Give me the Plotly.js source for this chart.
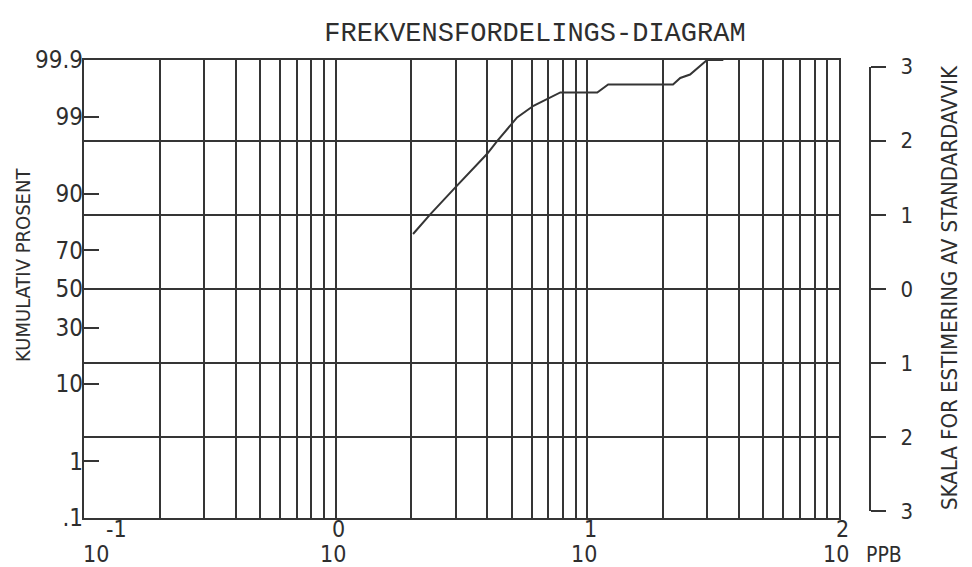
<!DOCTYPE html>
<html>
<head>
<meta charset="utf-8">
<script src="https://cdn.plot.ly/plotly-3.0.1.min.js"></script>
<style>html,body{margin:0;padding:0;background:#fff;}#chart{width:972px;height:567px;}</style>
</head>
<body>
<div id="chart"></div>
<script>
// ---- data ----
const conc = [2.03, 2.38, 2.99, 4.0, 4.38, 5.26, 6.11, 7.81, 10.95, 12.1, 21.9, 23.4, 25.6, 28.1, 29.9, 34.7]; // PPB
const cumPct = [77.1, 84.4, 91.5, 96.6, 97.7, 98.97, 99.33, 99.60, 99.60, 99.71, 99.71, 99.78, 99.81, 99.87, 99.90, 99.90]; // kumulativ prosent
const pctTicks = [0.1, 1, 10, 30, 50, 70, 90, 99, 99.9];
const pctLabels = ['.1', '1', '10', '30', '50', '70', '90', '99', '99.9'];
const sigmaTicks = [-3, -2, -1, 0, 1, 2, 3];
const sigmaLabels = ['3', '2', '1', '0', '1', '2', '3'];
const sigmaGrid = [-2, -1, 0, 1, 2];
const decadeExps = [-1, 0, 1, 2];
const expLabels = ['-1', '0', '1', '2'];
const titleText = 'FREKVENSFORDELINGS-DIAGRAM';
const leftTitle = 'KUMULATIV PROSENT';
const rightTitle = 'SKALA FOR ESTIMERING AV STANDARDAVVIK';
const unitText = 'PPB';

// inverse standard normal (Acklam)
function ppf(p) {
  const a = [-3.969683028665376e+01, 2.209460984245205e+02, -2.759285104469687e+02, 1.383577518672690e+02, -3.066479806614716e+01, 2.506628277459239e+00];
  const b = [-5.447609879822406e+01, 1.615858368580409e+02, -1.556989798598866e+02, 6.680131188771972e+01, -1.328068155288572e+01];
  const c = [-7.784894002430293e-03, -3.223964580411365e-01, -2.400758277161838e+00, -2.549732539343734e+00, 4.374664141464968e+00, 2.938163982698783e+00];
  const d = [7.784695709041462e-03, 3.224671290700398e-01, 2.445134137142996e+00, 3.754408661907416e+00];
  const pl = 0.02425, ph = 1 - pl;
  let q, r;
  if (p < pl) { q = Math.sqrt(-2 * Math.log(p)); return (((((c[0]*q+c[1])*q+c[2])*q+c[3])*q+c[4])*q+c[5]) / ((((d[0]*q+d[1])*q+d[2])*q+d[3])*q+1); }
  if (p <= ph) { q = p - 0.5; r = q*q; return (((((a[0]*r+a[1])*r+a[2])*r+a[3])*r+a[4])*r+a[5])*q / (((((b[0]*r+b[1])*r+b[2])*r+b[3])*r+b[4])*r+1); }
  q = Math.sqrt(-2 * Math.log(1 - p)); return -(((((c[0]*q+c[1])*q+c[2])*q+c[3])*q+c[4])*q+c[5]) / ((((d[0]*q+d[1])*q+d[2])*q+d[3])*q+1);
}

const zmax = ppf(0.999);
const ink = '#353535';
const txt = '#2e2e2e';
const narrow = 'Liberation Sans Narrow, Arial Narrow, DejaVu Sans Condensed, sans-serif';

// vertical grid positions 1..9 x 10^k
const xGrid = [];
for (let k = -1; k <= 1; k++) for (let m = 1; m <= 9; m++) xGrid.push(m * Math.pow(10, k));
xGrid.push(100);

const traces = [
  {x: conc, y: cumPct.map(p => ppf(p / 100)), xaxis: 'x', yaxis: 'y', type: 'scatter', mode: 'lines',
   line: {color: ink, width: 2}, hoverinfo: 'skip', showlegend: false, cliponaxis: false},
  {x: sigmaTicks.map(() => conc[0]), y: sigmaTicks, xaxis: 'x', yaxis: 'y3', type: 'scatter', mode: 'markers',
   marker: {opacity: 0, size: 1}, hoverinfo: 'skip', showlegend: false},
  {x: pctTicks.map(() => conc[0]), y: pctTicks.map(p => ppf(p / 100)), xaxis: 'x', yaxis: 'y2',
   type: 'scatter', mode: 'markers', marker: {opacity: 0, size: 1}, hoverinfo: 'skip', showlegend: false}
];

const plotL = 84, plotR = 839, axR = 870, W = 972, H = 567, plotT = 60, plotB = 518;
const paperW = axR - plotL, paperH = plotB - plotT;
const px2paperX = px => (px - plotL) / paperW;
const px2paperY = py => (plotB - py) / paperH;
const half = 0.5 * 3 / zmax;

const annotations = [];
decadeExps.forEach((e, i) => {
  const first = i === 0;
  annotations.push({xref: 'x', yref: 'paper', x: e, y: 0, text: '10', showarrow: false,
    xanchor: 'center', yanchor: 'middle', xshift: first ? 12 : -3, yshift: -36,
    font: {family: narrow, size: 23, color: txt}});
  annotations.push({xref: 'x', yref: 'paper', x: e, y: 0, text: expLabels[i], showarrow: false,
    xanchor: 'center', yanchor: 'middle', xshift: first ? 32 : 3, yshift: -11,
    font: {family: narrow, size: 23, color: txt}});
});
annotations.push({xref: 'paper', yref: 'paper', x: px2paperX(884), y: 0, text: unitText, showarrow: false,
  xanchor: 'center', yanchor: 'middle', yshift: -37, font: {family: narrow, size: 21, color: txt}});
annotations.push({xref: 'paper', yref: 'paper', x: px2paperX(23), y: px2paperY(265), text: leftTitle, showarrow: false,
  textangle: -90, xanchor: 'center', yanchor: 'middle', font: {family: narrow, size: 20, color: txt}});
annotations.push({xref: 'paper', yref: 'paper', x: px2paperX(949), y: px2paperY(288), text: rightTitle, showarrow: false,
  textangle: -90, xanchor: 'center', yanchor: 'middle', font: {family: narrow, size: 22, color: txt}});

const layout = {
  width: W, height: H,
  margin: {l: plotL, r: W - axR, t: plotT, b: H - plotB, pad: 0},
  paper_bgcolor: '#fff', plot_bgcolor: 'rgba(0,0,0,0)',
  showlegend: false,
  title: {text: titleText, xref: 'container', yref: 'container', x: 535 / W, y: 1 - 32 / H,
    xanchor: 'center', yanchor: 'middle', font: {family: 'Liberation Mono, DejaVu Sans Mono, monospace', size: 27, color: txt}},
  xaxis: {type: 'log', range: [-1, 2], domain: [0, (plotR - plotL) / paperW], anchor: 'y',
    tickvals: xGrid, showticklabels: false, ticks: '',
    showgrid: true, gridcolor: ink, gridwidth: 2,
    showline: true, mirror: true, linecolor: ink, linewidth: 2, zeroline: false, fixedrange: true},
  yaxis: {range: [-zmax, zmax], anchor: 'x', tickvals: sigmaGrid, showticklabels: false, ticks: '',
    showgrid: true, gridcolor: ink, gridwidth: 2,
    showline: true, mirror: true, linecolor: ink, linewidth: 2, zeroline: false, fixedrange: true},
  yaxis2: {overlaying: 'y', side: 'left', range: [-zmax, zmax], anchor: 'x',
    tickvals: pctTicks.map(p => ppf(p / 100)), ticktext: pctLabels,
    ticks: 'inside', ticklen: 15, tickwidth: 2, tickcolor: ink,
    tickfont: {family: narrow, size: 24, color: txt},
    showgrid: false, showline: false, zeroline: false, fixedrange: true},
  yaxis3: {domain: [0.5 - half, 0.5 + half], range: [-3, 3], anchor: 'free', position: 1, side: 'right',
    tickvals: sigmaTicks, ticktext: sigmaLabels,
    ticks: 'outside', ticklen: 15, tickwidth: 2, tickcolor: ink, ticklabelstandoff: 10,
    tickfont: {family: narrow, size: 22, color: txt},
    showgrid: false, showline: true, linecolor: ink, linewidth: 2, zeroline: false, fixedrange: true},
  annotations: annotations
};

Plotly.newPlot('chart', traces, layout, {staticPlot: true, displayModeBar: false});
</script>
</body>
</html>
